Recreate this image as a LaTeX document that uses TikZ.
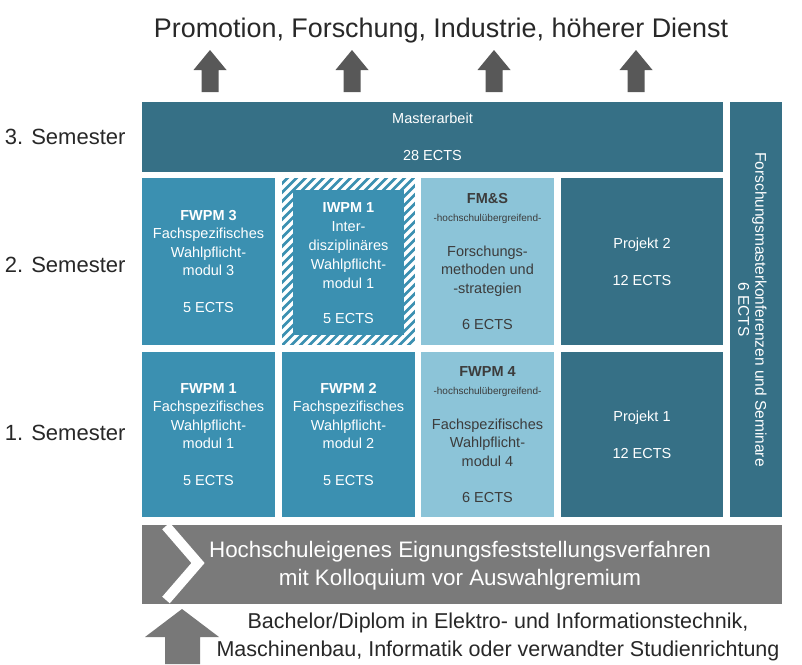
\documentclass[tikz,border=0pt]{standalone}
\usepackage{fontspec}
\setmainfont{Liberation Sans}
\definecolor{darkteal}{RGB}{54,112,134}
\definecolor{midblue}{RGB}{59,144,177}
\definecolor{lightblue}{RGB}{140,196,216}
\definecolor{bargray}{RGB}{122,122,122}
\definecolor{arrowgray}{RGB}{88,88,88}
\definecolor{lowarrow}{RGB}{120,120,120}
\definecolor{txtdark}{RGB}{40,40,40}
\definecolor{txtbox}{RGB}{60,60,60}
\tikzset{
  modbox/.style={inner sep=0pt, outer sep=0pt, align=center, anchor=north west,
    font=\fontsize{14.5}{18.5}\selectfont, text=white},
  semlabel/.style={anchor=east, text=txtdark, font=\fontsize{22}{26}\selectfont},
  uparrow/.style={fill=arrowgray},
}
\newcommand{\sml}[1]{{\fontsize{10}{18.5}\selectfont #1}}
\begin{document}
\begin{tikzpicture}[x=1pt,y=-1pt]
\useasboundingbox (0,0) rectangle (802,664);
\fill[white] (0,0) rectangle (802,664);

% title
\node[text=txtdark, font=\fontsize{26.9}{30}\selectfont] (title) at (441,31) {Promotion, Forschung, Industrie, höherer Dienst};

% top arrows
\foreach \cx/\nm in {210/a1,352/a2,494/a3,636/a4}{
  \coordinate (\nm) at (\cx,50);
  \fill[uparrow] (\cx,50) -- ++(16.5,20) -- ++(-8,0) -- ++(0,22) -- ++(-17,0) -- ++(0,-22) -- ++(-8,0) -- cycle;
}

% semester labels
\node[semlabel] (s3) at (129,137) {3. Semester};
\node[semlabel] (s2) at (129,265) {2. Semester};
\node[semlabel] (s1) at (129,433) {1. Semester};

% Masterarbeit
\node[modbox, fill=darkteal, minimum width=581pt, minimum height=70pt] (ma) at (142,102)
  {Masterarbeit\\[18.5pt]28 ECTS};

% right column
\node[inner sep=0pt, outer sep=0pt, fill=darkteal, minimum width=52pt, minimum height=415pt, anchor=north west] (fk) at (730,102) {};
\node[rotate=-90, align=center, text=white, font=\fontsize{15.5}{17}\selectfont] (fktext) at ([xshift=-3.5pt]fk.center) {Forschungsmasterkonferenzen und Seminare\\6 ECTS};

% row 2
\node[modbox, fill=midblue, minimum width=133pt, minimum height=167pt] (fw3) at (142,178)
  {\textbf{FWPM 3}\\Fachspezifisches\\Wahlpflicht-\\modul 3\\[18.5pt]5 ECTS};

\node[inner sep=0pt, outer sep=0pt, fill=midblue, minimum width=133pt, minimum height=167pt, anchor=north west] (iwbox) at (282,178) {};
\begin{scope}
  \clip (iwbox.north west) rectangle (iwbox.south east);
  \foreach \k in {-20,...,16}{
    \draw[white, line width=3.4pt] (282+9*\k,350) -- ++(180,-180);
  }
\end{scope}
\fill[midblue] (293,190) rectangle (404,335);
\node[align=center, text=white, font=\fontsize{14.5}{19}\selectfont] (iw) at ([yshift=-2pt]iwbox.center)
  {\textbf{IWPM 1}\\Inter-\\disziplinäres\\Wahlpflicht-\\modul 1\\[16pt]5 ECTS};

\node[modbox, fill=lightblue, text=txtbox, minimum width=133pt, minimum height=167pt] (fms) at (421,178)
  {\textbf{FM\&S}\\\sml{-hochschulübergreifend-}\\[16pt]Forschungs-\\methoden und\\-strategien\\[18pt]6 ECTS};

\node[modbox, fill=darkteal, minimum width=162pt, minimum height=167pt] (p2) at (561,178)
  {Projekt 2\\[18.5pt]12 ECTS};

% row 1
\node[modbox, fill=midblue, minimum width=133pt, minimum height=165pt] (fw1) at (142,352)
  {\textbf{FWPM 1}\\Fachspezifisches\\Wahlpflicht-\\modul 1\\[18.5pt]5 ECTS};
\node[modbox, fill=midblue, minimum width=133pt, minimum height=165pt] (fw2) at (282,352)
  {\textbf{FWPM 2}\\Fachspezifisches\\Wahlpflicht-\\modul 2\\[18.5pt]5 ECTS};
\node[modbox, fill=lightblue, text=txtbox, minimum width=133pt, minimum height=165pt] (fw4) at (421,352)
  {\textbf{FWPM 4}\\\sml{-hochschulübergreifend-}\\[16pt]Fachspezifisches\\Wahlpflicht-\\modul 4\\[18pt]6 ECTS};
\node[modbox, fill=darkteal, minimum width=162pt, minimum height=165pt] (p1) at (561,352)
  {Projekt 1\\[18.5pt]12 ECTS};

% gray bar
\node[inner sep=0pt, outer sep=0pt, fill=bargray, minimum width=640pt, minimum height=79pt, anchor=north west] (bar) at (142,525) {};
\begin{scope}
  \clip (bar.north west) rectangle (bar.south east);
  \draw[white, line width=10pt, miter limit=10] (166,526) -- (198,563) -- (166,600);
\end{scope}
\node[align=center, text=white, font=\fontsize{22.4}{28}\selectfont] (bartext) at (460,566)
  {Hochschuleigenes Eignungsfeststellungsverfahren\\mit Kolloquium vor Auswahlgremium};

% bottom arrow
\coordinate (btip) at (182,609);
\fill[lowarrow] (btip) -- (219,637) -- (200,637) -- (200,664) -- (165,664) -- (165,637) -- (145,637) -- cycle;
\node[align=center, text=txtdark, font=\fontsize{21.5}{28}\selectfont] (entry) at (498,637)
  {Bachelor/Diplom in Elektro- und Informationstechnik,\\Maschinenbau, Informatik oder verwandter Studienrichtung};
\end{tikzpicture}
\end{document}
